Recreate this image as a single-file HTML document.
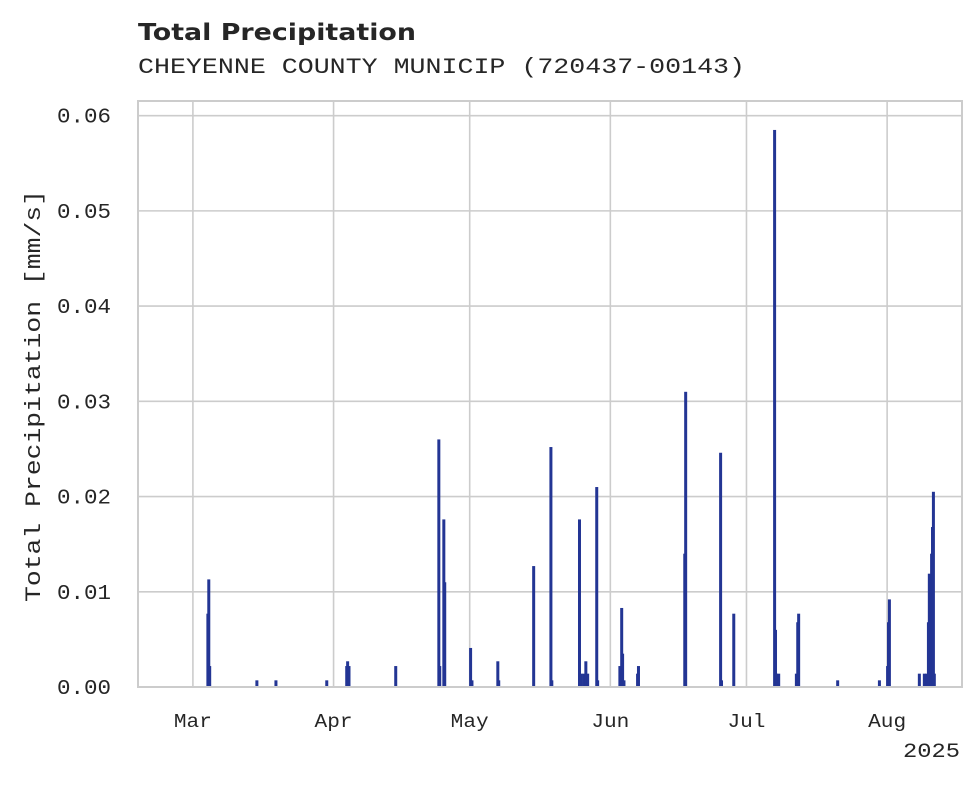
<!DOCTYPE html>
<html><head><meta charset="utf-8"><style>
body{margin:0;background:#fff;}
svg text{fill:#262626;}
</style></head><body>
<svg id="chart" width="980" height="783" xmlns="http://www.w3.org/2000/svg">
<text x="138" y="40" font-family="DejaVu Sans, Liberation Sans, sans-serif" font-weight="bold" font-size="23" textLength="278" lengthAdjust="spacingAndGlyphs">Total Precipitation</text>
<text x="138" y="73" font-family="Liberation Mono, monospace" font-size="22" textLength="607" lengthAdjust="spacingAndGlyphs">CHEYENNE COUNTY MUNICIP (720437-00143)</text>
<text transform="translate(40,396) rotate(-90)" text-anchor="middle" font-family="Liberation Mono, monospace" font-size="22" textLength="412" lengthAdjust="spacingAndGlyphs">Total Precipitation [mm/s]</text>
<g id="grid"></g><g id="bars"></g><g id="ticks"></g>
<rect x="138" y="101" width="824" height="586" fill="none" stroke="#cccccc" stroke-width="2"/>
<text x="960" y="757" text-anchor="end" font-family="Liberation Mono, monospace" font-size="20" textLength="57" lengthAdjust="spacingAndGlyphs">2025</text>
</svg>
<script>
const days=[3.3,3.5,3.7,14.1,18.3,29.5,33.9,34.1,34.4,44.7,54.2,54.4,55.3,55.5,61.2,61.5,67.2,67.4,75.1,78.9,79.1,85.2,85.5,86.1,86.6,87.0,89.0,89.2,94.1,94.5,94.7,95.0,98.0,98.2,108.4,108.6,116.3,116.5,119.2,128.2,128.4,128.6,129.1,133.0,133.3,133.5,142.1,151.3,153.1,153.3,153.5,160.1,161.2,161.7,162.1,162.3,162.6,162.8,163.0,163.2,163.4];
const values=[0.0077,0.0113,0.0022,0.0007,0.0007,0.0007,0.0022,0.0027,0.0022,0.0022,0.026,0.0022,0.0176,0.011,0.0041,0.0007,0.0027,0.0007,0.0127,0.0252,0.0007,0.0176,0.0014,0.0014,0.0027,0.0014,0.021,0.0007,0.0022,0.0083,0.0035,0.0007,0.0014,0.0022,0.014,0.031,0.0246,0.0007,0.0077,0.0585,0.006,0.0014,0.0014,0.0014,0.0068,0.0077,0.0007,0.0007,0.0022,0.0068,0.0092,0.0014,0.0014,0.0014,0.0068,0.0119,0.011,0.014,0.0168,0.0205,0.0014];
const yTicks=[0,0.01,0.02,0.03,0.04,0.05,0.06];
const yTickLabels=["0.00","0.01","0.02","0.03","0.04","0.05","0.06"];
const monthDays=[0,31,61,92,122,153];
const monthLabels=["Mar","Apr","May","Jun","Jul","Aug"];
const NS="http://www.w3.org/2000/svg";
const X0=138,X1=962,Y0=687,Y1=101,DMIN=-12.1,DMAX=169.5,VMAX=0.06154;
const x=d=>X0+(d-DMIN)/(DMAX-DMIN)*(X1-X0);
const y=v=>Y0-v/VMAX*(Y0-Y1);
function el(t,a,p){const e=document.createElementNS(NS,t);for(const k in a)e.setAttribute(k,a[k]);document.getElementById(p).appendChild(e);return e;}
yTicks.forEach((v,i)=>{
  const g=el('line',{x1:X0,x2:X1,y1:y(v),y2:y(v),stroke:'#cccccc','stroke-width':1.6},'grid');
  
  
  const t=el('text',{x:111,y:y(v)+7,'text-anchor':'end','font-family':'Liberation Mono, monospace','font-size':21,textLength:54,lengthAdjust:'spacingAndGlyphs'},'ticks');
  t.textContent=yTickLabels[i];
  
  
});
monthDays.forEach((d,i)=>{
  const g=el('line',{x1:x(d),x2:x(d),y1:Y1,y2:Y0,stroke:'#cccccc','stroke-width':1.6},'grid');
  
  
  const t=el('text',{x:x(d),y:727,'text-anchor':'middle','font-family':'Liberation Mono, monospace','font-size':19,textLength:38,lengthAdjust:'spacingAndGlyphs'},'ticks');
  t.textContent=monthLabels[i];
  
  
});
days.forEach((d,i)=>{
  const r=el('rect',{x:x(d)-1.5,y:y(values[i]),width:3,height:Y0-y(values[i]),fill:'#233594'},'bars');
  
  
});
</script>
</body></html>
